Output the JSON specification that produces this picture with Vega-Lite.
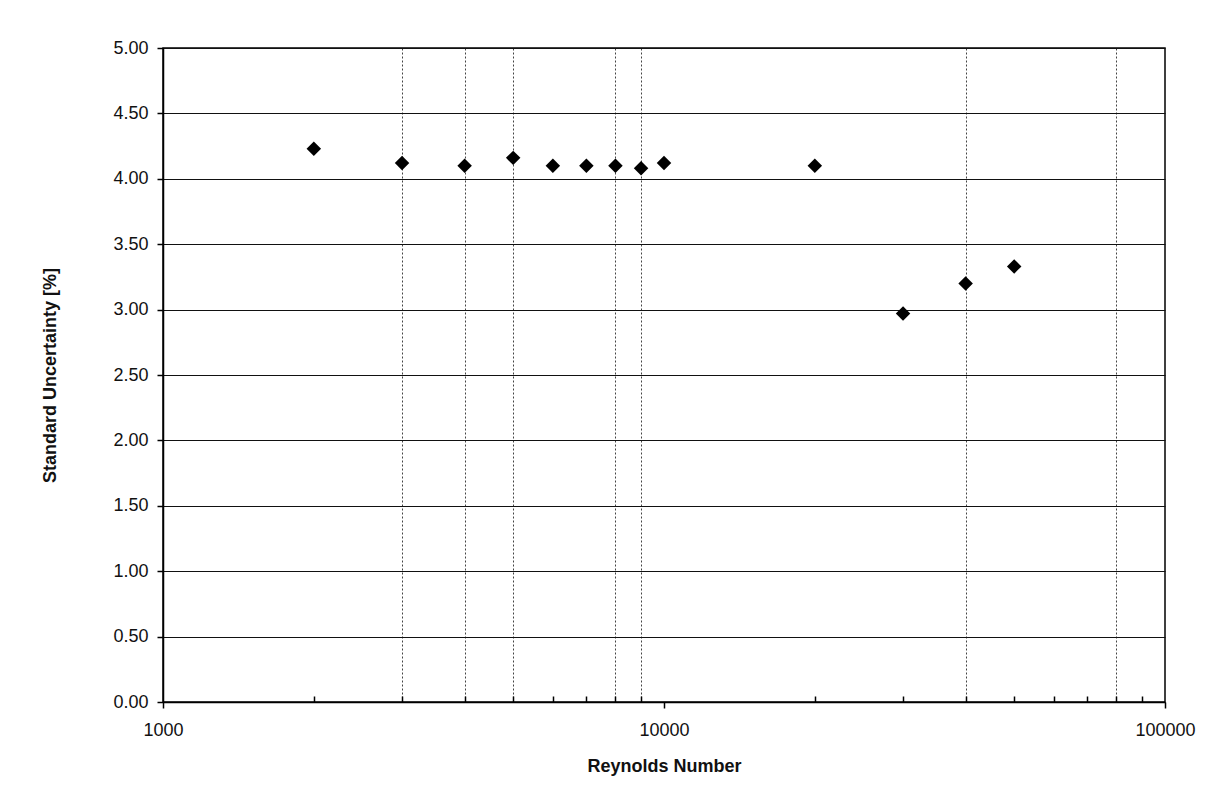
{
  "$schema": "https://vega.github.io/schema/vega-lite/v6.json",
  "width": 1002,
  "height": 654,
  "autosize": "none",
  "padding": {"left": 163, "top": 48, "right": 60, "bottom": 96},
  "background": "#ffffff",
  "config": {
    "font": "Liberation Sans",
    "view": {"stroke": "#000000", "strokeWidth": 1.5},
    "axis": {"labelColor": "#111111", "titleColor": "#111111", "domainColor": "#000000", "tickColor": "#000000"}
  },
  "data": {
    "values": [
      {"re": 2000, "u": 4.23},
      {"re": 3000, "u": 4.12},
      {"re": 4000, "u": 4.10},
      {"re": 5000, "u": 4.16},
      {"re": 6000, "u": 4.10},
      {"re": 7000, "u": 4.10},
      {"re": 8000, "u": 4.10},
      {"re": 9000, "u": 4.08},
      {"re": 10000, "u": 4.12},
      {"re": 20000, "u": 4.10},
      {"re": 30000, "u": 2.97},
      {"re": 40000, "u": 3.20},
      {"re": 50000, "u": 3.33}
    ]
  },
  "mark": {"type": "point", "shape": "diamond", "filled": true, "color": "#000000", "opacity": 1, "size": 210},
  "encoding": {
    "x": {
      "field": "re",
      "type": "quantitative",
      "scale": {"type": "log", "domain": [1000, 100000]},
      "axis": {
        "title": "Reynolds Number",
        "titleFontSize": 18,
        "titleFontWeight": "bold",
        "titlePadding": 18,
        "values": [1000, 2000, 3000, 4000, 5000, 6000, 7000, 8000, 9000, 10000, 20000, 30000, 40000, 50000, 60000, 70000, 80000, 90000, 100000],
        "format": "d",
        "labelExpr": "indexof([1000, 10000, 100000], datum.value) >= 0 ? datum.label : ''",
        "labelFontSize": 18,
        "labelFlush": false,
        "labelOverlap": false,
        "labelPadding": 13,
        "tickSize": {"condition": {"test": "indexof([1000, 10000, 100000], datum.value) >= 0", "value": 6}, "value": -6},
        "tickWidth": 1.5,
        "domainWidth": 1.5,
        "grid": true,
        "gridColor": "#444444",
        "gridDash": [2, 2],
        "gridWidth": 1,
        "gridOpacity": {"condition": {"test": "indexof([3000, 4000, 5000, 8000, 9000, 40000, 80000], datum.value) >= 0", "value": 1}, "value": 0}
      }
    },
    "y": {
      "field": "u",
      "type": "quantitative",
      "scale": {"domain": [0, 5], "nice": false, "zero": true},
      "axis": {
        "title": "Standard Uncertainty [%]",
        "titleFontSize": 18,
        "titleFontWeight": "bold",
        "titlePadding": 53,
        "values": [0, 0.5, 1, 1.5, 2, 2.5, 3, 3.5, 4, 4.5, 5],
        "format": ".2f",
        "labelFontSize": 18,
        "labelPadding": 9,
        "tickSize": 6,
        "tickWidth": 1.5,
        "domainWidth": 1.5,
        "grid": true,
        "gridColor": "#111111",
        "gridWidth": 1.2
      }
    }
  }
}
